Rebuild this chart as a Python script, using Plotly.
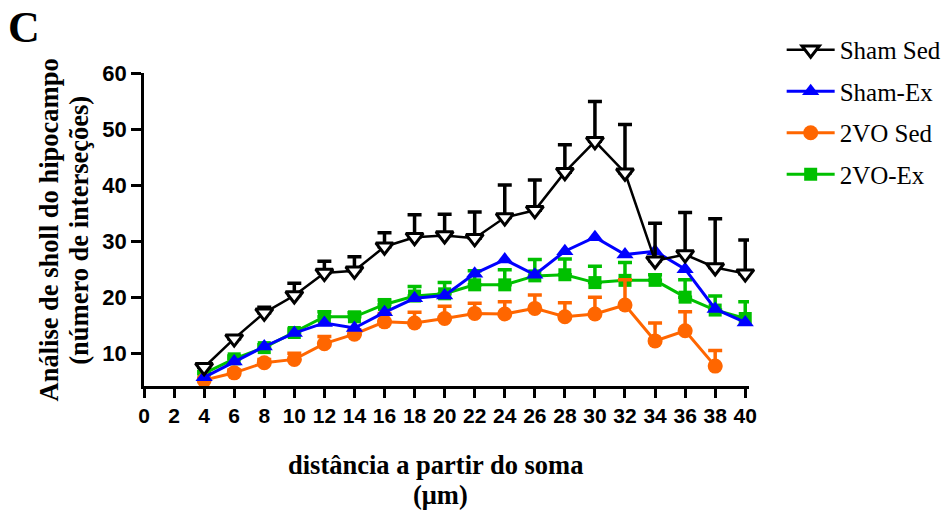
import plotly.graph_objects as go

# ---------------- data ----------------
dist = [4, 6, 8, 10, 12, 14, 16, 18, 20, 22, 24, 26, 28, 30, 32, 34, 36, 38, 40]
dist_2vo_sed = [4, 6, 8, 10, 12, 14, 16, 18, 20, 22, 24, 26, 28, 30, 32, 34, 36, 38]

sham_sed = [7.5, 12.6, 17.2, 20.3, 24.3, 24.7, 29.0, 30.7, 31.0, 30.5, 34.2, 35.5,
            42.3, 47.8, 42.2, 26.5, 27.6, 25.3, 24.2]
sham_sed_err = [0.3, 0.5, 1.0, 2.2, 2.1, 2.5, 2.5, 4.0, 3.8, 4.7, 5.8, 5.4,
                4.9, 7.1, 8.6, 6.7, 7.5, 8.7, 6.0]

sham_ex = [5.7, 8.5, 11.2, 13.6, 15.4, 14.5, 17.3, 19.8, 20.3, 24.2, 26.7, 24.0,
           28.2, 30.7, 27.6, 28.2, 25.0, 17.9, 15.5]

vo_sed = [5.2, 6.5, 8.3, 8.9, 11.7, 13.4, 15.6, 15.4, 16.2, 17.1, 17.0, 18.0,
          16.5, 17.0, 18.6, 12.2, 14.0, 7.7]
vo_sed_err = [0.3, 0.5, 0.6, 1.1, 1.3, 0.8, 1.5, 1.9, 2.2, 1.8, 2.2, 2.4,
              2.5, 3.0, 4.5, 3.2, 3.4, 2.8]

vo_ex = [6.4, 9.0, 11.0, 13.7, 16.5, 16.5, 18.7, 20.2, 20.6, 22.2, 22.2, 23.8,
         24.0, 22.6, 23.0, 23.0, 20.0, 17.7, 16.2]
vo_ex_err = [0.3, 0.5, 0.5, 0.6, 0.9, 0.7, 0.8, 1.7, 2.0, 2.5, 2.7, 2.9,
             2.8, 2.9, 3.2, 1.0, 3.1, 2.5, 3.0]

x_ticks = list(range(0, 41, 2))
y_ticks = [10, 20, 30, 40, 50, 60]

# ---------------- figure ----------------
fig = go.Figure()

def err(vals, color):
    return dict(type="data", array=vals, arrayminus=[0] * len(vals),
                symmetric=False, color=color, thickness=3.5, width=7)

fig.add_trace(go.Scatter(
    x=dist, y=vo_ex, name="2VO-Ex", mode="lines+markers",
    line=dict(color="#00C000", width=3),
    marker=dict(symbol="square", size=13, color="#00C000"),
    error_y=err(vo_ex_err, "#00C000"),
    legendgroup="d", legendrank=4, cliponaxis=False))

fig.add_trace(go.Scatter(
    x=dist_2vo_sed, y=vo_sed, name="2VO Sed", mode="lines+markers",
    line=dict(color="#FF6600", width=3),
    marker=dict(symbol="circle", size=15, color="#FF6600"),
    error_y=err(vo_sed_err, "#FF6600"),
    legendgroup="c", legendrank=3, cliponaxis=False))

fig.add_trace(go.Scatter(
    x=dist, y=sham_ex, name="Sham-Ex", mode="lines+markers",
    line=dict(color="#0000FF", width=3),
    marker=dict(symbol="triangle-up", size=15, color="#0000FF"),
    legendgroup="b", legendrank=2, cliponaxis=False))

fig.add_trace(go.Scatter(
    x=dist, y=sham_sed, name="Sham Sed", mode="lines+markers",
    line=dict(color="black", width=2.5),
    marker=dict(symbol="triangle-down", size=15, color="white",
                line=dict(color="black", width=3)),
    error_y=err(sham_sed_err, "black"),
    legendgroup="a", legendrank=1, cliponaxis=False))

axis_common = dict(showline=True, linecolor="black", linewidth=2.5,
                   ticks="outside", tickcolor="black", tickwidth=2.5,
                   showgrid=False, zeroline=False)

fig.update_xaxes(range=[0, 40.25], tickvals=x_ticks, ticklen=9,
                 tickfont=dict(family="Liberation Sans", size=21, color="black", weight="bold"),
                 **axis_common)
fig.update_yaxes(range=[4.15, 60], tickvals=y_ticks, ticklen=10,
                 tickfont=dict(family="Liberation Sans", size=22, color="black", weight="bold"),
                 **axis_common)

serif_b = dict(family="Liberation Serif", color="black", weight="bold")

annotations = [
    dict(text="C", x=-0.198, y=1.144, xref="paper", yref="paper",
         showarrow=False, xanchor="center", yanchor="middle",
         font=dict(size=44, **serif_b)),
    dict(text="Análise de sholl do hipocampo", x=-0.157, y=0.497,
         xref="paper", yref="paper", textangle=-90, showarrow=False,
         xanchor="center", yanchor="middle", font=dict(size=26.5, **serif_b)),
    dict(text="(número de interseções)", x=-0.107, y=0.497,
         xref="paper", yref="paper", textangle=-90, showarrow=False,
         xanchor="center", yanchor="middle", font=dict(size=26.5, **serif_b)),
    dict(text="distância a partir do soma", x=0.482, y=-0.252,
         xref="paper", yref="paper", showarrow=False,
         xanchor="center", yanchor="middle", font=dict(size=26.5, **serif_b)),
    dict(text="(μm)", x=0.49, y=-0.348,
         xref="paper", yref="paper", showarrow=False,
         xanchor="center", yanchor="middle", font=dict(size=26.5, **serif_b)),
]

fig.update_layout(
    width=946, height=514,
    margin=dict(l=144, r=197, t=73, b=128, autoexpand=False),
    paper_bgcolor="white", plot_bgcolor="white",
    annotations=annotations,
    showlegend=True,
    legend=dict(x=1.054, y=1.147, xanchor="left", yanchor="top",
                font=dict(family="Liberation Serif", size=25, color="black"),
                tracegroupgap=6, bgcolor="rgba(0,0,0,0)", itemwidth=48),
)

fig.write_html("out.html")
